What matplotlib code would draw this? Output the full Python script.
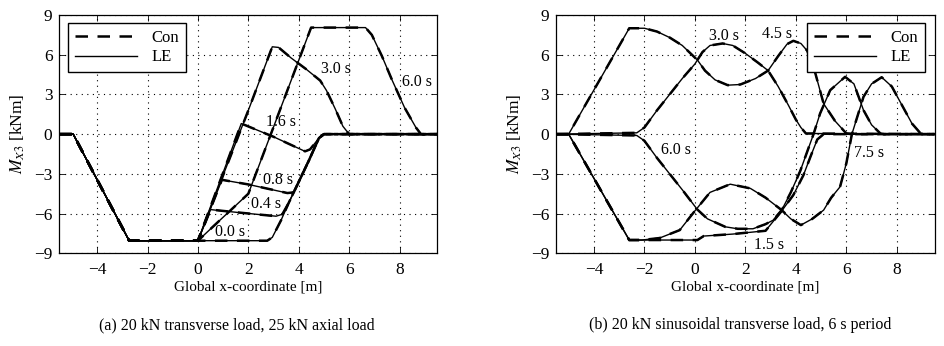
import matplotlib
matplotlib.use("Agg")
import matplotlib.pyplot as plt
from matplotlib.lines import Line2D

plt.rcParams['font.family'] = ['Liberation Serif', 'DejaVu Serif']
plt.rcParams['mathtext.fontset'] = 'stix'

# ---- (a) 20 kN transverse load, 25 kN axial load ----
# digitized points (x [m], M [kNm]); Con and LE coincide within line width
a_times = ['0.0 s', '0.4 s', '0.8 s', '1.6 s', '3.0 s', '6.0 s']
a_x = {
    '0.0 s': [-5.5, -4.95, -2.73, 0.0, 2.75, 2.95, 3.3, 3.6, 4.0, 4.4, 4.8, 5.0, 9.5],
    '0.4 s': [-5.5, -4.95, -2.73, 0.0, 0.5, 1.5, 3.1, 3.35, 3.6, 4.0, 4.4, 4.8, 5.0, 9.5],
    '0.8 s': [-5.5, -4.95, -2.73, 0.0, 0.95, 2.0, 3.55, 3.8, 4.0, 4.4, 4.8, 5.0, 9.5],
    '1.6 s': [-5.5, -4.95, -2.73, 0.0, 1.72, 3.0, 4.25, 4.45, 4.8, 5.0, 9.5],
    '3.0 s': [-5.5, -4.95, -2.73, 0.0, 1.0, 2.0, 2.95, 3.2, 3.7, 4.3, 4.85, 5.1, 5.45, 5.75, 6.0, 9.5],
    '6.0 s': [-5.5, -4.95, -2.73, 0.0, 2.0, 4.49, 6.65, 6.9, 7.3, 7.7, 8.2, 8.65, 8.85, 9.05, 9.5],
}
a_y = {
    '0.0 s': [0.0, 0.0, -8.05, -8.05, -8.05, -7.8, -6.5, -5.2, -3.6, -2.0, -0.3, 0.0, 0.0],
    '0.4 s': [0.0, 0.0, -8.05, -8.05, -5.7, -5.9, -6.2, -6.05, -5.2, -3.6, -2.0, -0.3, 0.0, 0.0],
    '0.8 s': [0.0, 0.0, -8.05, -8.05, -3.45, -3.8, -4.45, -4.4, -3.6, -2.0, -0.3, 0.0, 0.0],
    '1.6 s': [0.0, 0.0, -8.05, -8.05, 0.8, -0.2, -1.3, -1.15, -0.3, 0.0, 0.0],
    '3.0 s': [0.0, 0.0, -8.05, -8.05, -3.1, 1.8, 6.6, 6.55, 5.75, 4.9, 4.05, 3.3, 1.9, 0.6, 0.0, 0.0],
    '6.0 s': [0.0, 0.0, -8.05, -8.05, -4.5, 8.05, 8.05, 7.5, 5.9, 4.1, 2.0, 0.5, 0.0, -0.05, 0.0],
}
a_labels = {'0.0 s': (1.26, -7.37), '0.4 s': (2.71, -5.3), '0.8 s': (3.16, -3.45),
            '1.6 s': (3.3, 0.95), '3.0 s': (5.46, 4.95), '6.0 s': (8.7, 3.95)}

# ---- (b) 20 kN sinusoidal transverse load, 6 s period ----
b_times = ['1.5 s', '3.0 s', '4.5 s', '6.0 s', '7.5 s']
b_x = {
    '1.5 s': [-5.5, -5.0, -2.6, 0.1, 0.35, 1.5, 2.8, 3.44, 3.9, 4.3, 4.6, 4.85, 5.1, 9.5],
    '3.0 s': [-5.5, -2.3, -2.0, -1.5, -1.0, -0.5, 0.0, 0.3, 0.6, 1.1, 1.5, 2.0, 2.5, 2.9,
              3.3, 3.7, 4.0, 4.2, 4.4, 9.5],
    '4.5 s': [-5.5, -5.0, -2.6, -2.0, -1.5, -1.0, -0.5, 0.1, 0.4, 0.8, 1.3, 1.8, 2.4, 2.9,
              3.3, 3.65, 3.9, 4.2, 4.45, 4.7, 5.1, 5.55, 6.0, 6.2, 9.5],
    '6.0 s': [-5.5, -2.3, -2.0, -1.5, -1.0, -0.5, 0.1, 0.5, 1.2, 1.7, 2.3, 2.8, 3.1, 3.44,
              3.8, 4.17, 4.7, 4.96, 5.36, 5.95, 6.3, 6.68, 7.0, 7.35, 7.5, 9.5],
    '7.5 s': [-5.5, -5.0, -2.6, -2.1, -1.4, -0.6, 0.0, 0.6, 1.4, 2.2, 2.8, 3.44, 3.8, 4.2,
              4.65, 5.1, 5.4, 5.75, 6.0, 6.22, 6.68, 7.0, 7.4, 7.8, 8.2, 8.6, 8.92, 9.1, 9.5],
}
b_y = {
    '1.5 s': [0.0, 0.0, -8.0, -8.0, -7.7, -7.55, -7.3, -5.8, -4.6, -3.1, -1.6, -0.4, 0.0, 0.0],
    '3.0 s': [0.0, 0.1, 0.5, 1.8, 3.0, 4.2, 5.3, 6.2, 6.7, 6.85, 6.7, 6.1, 5.4, 4.8,
              3.6, 2.2, 1.1, 0.5, 0.05, 0.0],
    '4.5 s': [0.0, 0.0, 8.0, 8.0, 7.75, 7.3, 6.7, 5.6, 4.8, 4.1, 3.7, 3.75, 4.2, 4.8,
              5.9, 6.8, 7.05, 6.85, 6.3, 5.1, 2.3, 1.0, 0.05, 0.0, 0.0],
    '6.0 s': [0.0, -0.1, -0.5, -1.8, -3.0, -4.2, -5.7, -6.4, -7.0, -7.15, -7.15, -6.8, -6.5, -5.74,
              -4.4, -2.8, 0.0, 1.56, 3.32, 4.33, 3.8, 1.81, 0.7, 0.05, 0.0, 0.0],
    '7.5 s': [0.0, 0.0, -8.0, -8.0, -7.85, -7.25, -5.8, -4.4, -3.78, -4.1, -4.8, -5.74, -6.4, -6.87,
              -6.4, -5.74, -4.8, -3.98, -2.2, 0.0, 2.82, 3.8, 4.3, 3.6, 2.2, 0.8, 0.1, 0.0, 0.0],
}
b_labels = {'1.5 s': (2.92, -8.39), '3.0 s': (1.16, 7.4), '4.5 s': (3.27, 7.53),
            '6.0 s': (-0.75, -1.21), '7.5 s': (6.89, -1.41)}

xticks = [-4, -2, 0, 2, 4, 6, 8]
yticks = [-9, -6, -3, 0, 3, 6, 9]
captions = ['(a) 20 kN transverse load, 25 kN axial load',
            '(b) 20 kN sinusoidal transverse load, 6 s period']

fig = plt.figure(figsize=(9.45, 3.46), dpi=100)
ax_a = fig.add_axes([0.0628, 0.268, 0.4, 0.6886])
ax_b = fig.add_axes([0.5884, 0.268, 0.4007, 0.6886])


def draw(ax, times, xs, ys, labels, leg_loc, leg_anchor):
    for t in times:
        ax.plot(xs[t], ys[t], color='k', linewidth=1.8, dashes=(5, 3.8))
        ax.plot(xs[t], ys[t], color='k', linewidth=1.0)
    for t in times:
        lx, ly = labels[t]
        ax.text(lx, ly, t, fontsize=11.5, ha='center', va='center')
    ax.set_xlim(-5.5, 9.5)
    ax.set_ylim(-9, 9)
    ax.set_xticks(xticks)
    ax.set_yticks(yticks)
    ax.tick_params(direction='in', top=True, right=True, length=4, width=0.6,
                   labelsize=12.5)
    ax.tick_params(axis='x', pad=6)
    ax.tick_params(axis='y', pad=5)
    ax.grid(True, linestyle=(0, (1, 4)), color='k', linewidth=0.8)
    for s in ax.spines.values():
        s.set_linewidth(0.9)
    ax.set_xlabel('Global x-coordinate [m]', fontsize=11, labelpad=2)
    ax.set_ylabel(r'$M_{X3}$ [kNm]', fontsize=12.5, labelpad=5)
    handles = [Line2D([], [], color='k', linewidth=1.8, dashes=(5, 3.8)),
               Line2D([], [], color='k', linewidth=1.0)]
    leg = ax.legend(handles, ['Con', 'LE'], loc=leg_loc, bbox_to_anchor=leg_anchor,
                    fontsize=12, fancybox=False, framealpha=1, edgecolor='k',
                    handlelength=3.7, handletextpad=0.9, borderaxespad=0,
                    labelspacing=0.2)
    leg.get_frame().set_linewidth(1.0)


draw(ax_a, a_times, a_x, a_y, a_labels, 'upper left', (0.024, 0.965))
draw(ax_b, b_times, b_x, b_y, b_labels, 'upper right', (0.974, 0.965))

fig.text(0.251, 0.061, captions[0], fontsize=11.5, ha='center', va='center')
fig.text(0.783, 0.061, captions[1], fontsize=11.5, ha='center', va='center')

fig.savefig('out.png', dpi=100)
